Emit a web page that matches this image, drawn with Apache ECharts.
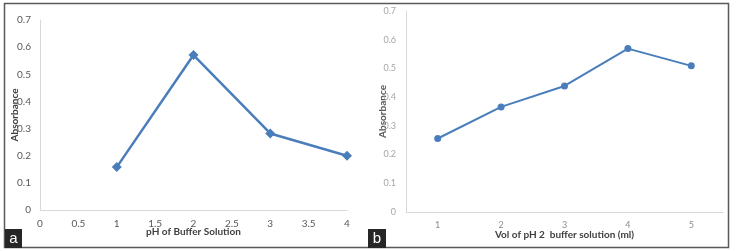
<html>
<head>
    <meta http-equiv="Content-Type" content="text/html; charset=utf-8" />
    <script src="https://cdn.jsdelivr.net/npm/echarts@6/dist/echarts.min.js"></script>
    <style>
        body { margin: 0; background: #ffffff; }
        #main { width: 739px; height: 251px; }
    </style>
</head>
<body>
    <div id="main"></div>
    <script type="text/javascript">

        // panel a: pH of buffer solution
        var phValues = [1, 2, 3, 4];
        var phAbsorbance = [0.158, 0.571, 0.282, 0.200];

        // panel b: volume of pH 2 buffer
        var volCategories = ['1', '2', '3', '4', '5'];
        var volAbsorbance = [0.256, 0.366, 0.439, 0.569, 0.509];

        var lineBlue = '#4a7ebb';
        var axisGray = '#d9d9d9';
        var font = 'Lato, "Open Sans", sans-serif';

        var myChart = echarts.init(document.getElementById('main'));

        var option = {
            animation: false,
            backgroundColor: '#ffffff',
            grid: [
                { left: 40, top: 20, width: 307, height: 190 },
                { left: 406, top: 11, width: 317, height: 201 }
            ],
            xAxis: [
                {
                    gridIndex: 0,
                    type: 'value',
                    min: 0, max: 4, interval: 0.5,
                    axisLine: { show: true, lineStyle: { color: axisGray, width: 1 } },
                    axisTick: { show: false },
                    splitLine: { show: false },
                    axisLabel: { color: '#595959', fontSize: 10, fontFamily: font, margin: 9 },
                    name: 'pH of Buffer Solution',
                    nameLocation: 'middle',
                    nameMoveOverlap: false,
                    nameGap: 17,
                    nameTextStyle: { color: '#404040', fontSize: 10, fontWeight: 'bold', fontFamily: font }
                },
                {
                    gridIndex: 1,
                    type: 'category',
                    data: volCategories,
                    boundaryGap: true,
                    axisLine: { show: true, lineStyle: { color: axisGray, width: 1 } },
                    axisTick: { show: false },
                    splitLine: { show: false },
                    axisLabel: { color: '#8c8c8c', fontSize: 9, fontFamily: font, margin: 9 },
                    name: 'Vol of pH 2  buffer solution (ml)',
                    nameLocation: 'middle',
                    nameMoveOverlap: false,
                    nameGap: 18,
                    nameTextStyle: { color: '#404040', fontSize: 10, fontWeight: 'bold', fontFamily: font }
                }
            ],
            yAxis: [
                {
                    gridIndex: 0,
                    type: 'value',
                    min: 0, max: 0.7, interval: 0.1,
                    axisLine: { show: true, lineStyle: { color: axisGray, width: 1 } },
                    axisTick: { show: false },
                    splitLine: { show: false },
                    axisLabel: { color: '#595959', fontSize: 10, fontFamily: font, margin: 9 },
                    name: 'Absorbance',
                    nameLocation: 'middle',
                    nameMoveOverlap: false,
                    nameGap: 20,
                    nameTextStyle: { color: '#404040', fontSize: 10, fontWeight: 'bold', fontFamily: font }
                },
                {
                    gridIndex: 1,
                    type: 'value',
                    min: 0, max: 0.7, interval: 0.1,
                    axisLine: { show: true, lineStyle: { color: axisGray, width: 1 } },
                    axisTick: { show: false },
                    splitLine: { show: false },
                    axisLabel: { color: '#a6a6a6', fontSize: 9, fontFamily: font, margin: 10 },
                    name: 'Absorbance',
                    nameLocation: 'middle',
                    nameMoveOverlap: false,
                    nameGap: 18,
                    nameTextStyle: { color: '#595959', fontSize: 10, fontWeight: 'bold', fontFamily: font }
                }
            ],
            series: [
                {
                    type: 'line',
                    xAxisIndex: 0,
                    yAxisIndex: 0,
                    data: phValues.map(function (x, i) { return [x, phAbsorbance[i]]; }),
                    symbol: 'diamond',
                    symbolSize: 10,
                    lineStyle: { color: lineBlue, width: 2.5 },
                    itemStyle: { color: lineBlue }
                },
                {
                    type: 'line',
                    xAxisIndex: 1,
                    yAxisIndex: 1,
                    data: volAbsorbance,
                    symbol: 'circle',
                    symbolSize: 7,
                    lineStyle: { color: lineBlue, width: 2 },
                    itemStyle: { color: lineBlue }
                }
            ],
            graphic: [
                // outer frame
                {
                    type: 'rect',
                    shape: { x: 4.5, y: 3.5, width: 724, height: 244 },
                    style: { fill: 'none', stroke: '#595959', lineWidth: 1.5 },
                    silent: true
                },
                // panel labels
                {
                    type: 'rect',
                    shape: { x: 5, y: 229, width: 17, height: 19 },
                    style: { fill: '#262626' }
                },
                {
                    type: 'text',
                    x: 13.5, y: 239,
                    style: { text: 'a', fill: '#ffffff', fontSize: 15, fontFamily: 'Liberation Sans, sans-serif', align: 'center', verticalAlign: 'middle' }
                },
                {
                    type: 'rect',
                    shape: { x: 368, y: 229, width: 18, height: 19 },
                    style: { fill: '#262626' }
                },
                {
                    type: 'text',
                    x: 377, y: 239,
                    style: { text: 'b', fill: '#ffffff', fontSize: 15, fontFamily: 'Liberation Sans, sans-serif', align: 'center', verticalAlign: 'middle' }
                }
            ]
        };

        myChart.setOption(option);
    </script>
</body>
</html>
